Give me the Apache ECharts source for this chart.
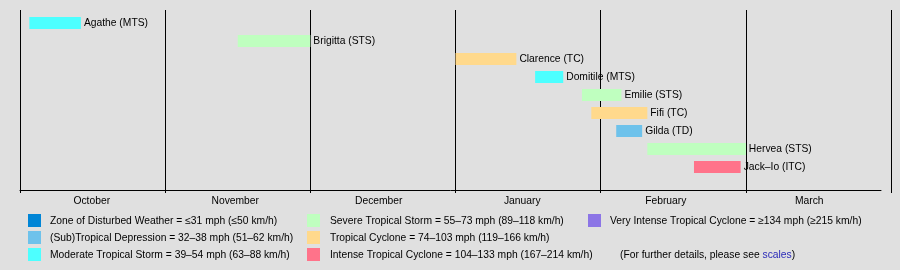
<!DOCTYPE html>
<html>
<head>
<meta charset="utf-8">
<script src="https://cdn.jsdelivr.net/npm/echarts@6/dist/echarts.min.js"></script>
<style>
html,body{margin:0;padding:0;background:#e0e0e0;}
#chart{width:900px;height:270px;}
</style>
</head>
<body>
<div id="chart"></div>
<script>
// ---- data ----
const months = ['October', 'November', 'December', 'January', 'February', 'March'];
const monthStarts = ['1976-10-01', '1976-11-01', '1976-12-01', '1977-01-01', '1977-02-01', '1977-03-01'];
const stormNames = ['Agathe', 'Brigitta', 'Clarence', 'Domitile', 'Emilie', 'Fifi', 'Gilda', 'Hervea', 'Jack–Io'];
const stormClass = ['MTS', 'STS', 'TC', 'MTS', 'STS', 'TC', 'TD', 'STS', 'ITC'];
const stormStart = ['1976-10-03', '1976-11-16', '1977-01-01', '1977-01-18', '1977-01-28', '1977-01-30', '1977-02-04', '1977-02-10', '1977-02-19'];
const stormEnd   = ['1976-10-14', '1976-12-01', '1977-01-14', '1977-01-24', '1977-02-05', '1977-02-10', '1977-02-09', '1977-03-01', '1977-02-28'];

const classCodes = ['ZD', 'TD', 'MTS', 'STS', 'TC', 'ITC', 'VITC'];
const classColors = ['#0085d6', '#6ec2eb', '#4dffff', '#bfffbf', '#ffd98c', '#ff738a', '#8c75e6'];
const legendLabels = [
  'Zone of Disturbed Weather = ≤31 mph (≤50 km/h)',
  '(Sub)Tropical Depression = 32–38 mph (51–62 km/h)',
  'Moderate Tropical Storm = 39–54 mph (63–88 km/h)',
  'Severe Tropical Storm = 55–73 mph (89–118 km/h)',
  'Tropical Cyclone = 74–103 mph (119–166 km/h)',
  'Intense Tropical Cyclone = 104–133 mph (167–214 km/h)',
  'Very Intense Tropical Cyclone = ≥134 mph (≥215 km/h)'
];
const noteText = '(For further details, please see ';
const noteLink = 'scales';
const noteEnd = ')';

// ---- helpers ----
const FONT = '"Liberation Sans", Arial, sans-serif';
const FS = 10.3;
function pos(ds) {
  const [y, m, d] = ds.split('-').map(Number);
  const first = monthStarts[0].split('-').map(Number);
  const idx = (y - first[0]) * 12 + (m - first[1]);
  const dim = new Date(y, m, 0).getDate();
  return idx + (d - 1) / dim;
}
const colorOf = c => classColors[classCodes.indexOf(c)];
const barData = stormNames.map((n, i) => ({
  value: [pos(stormStart[i]), pos(stormEnd[i]), i],
  label: n + ' (' + stormClass[i] + ')',
  color: colorOf(stormClass[i])
}));

// legend graphics
const graphics = [];
const colX = [28, 307, 588];
const textX = [50, 330, 610];
const rowY = [214, 231, 248];
legendLabels.forEach((lab, i) => {
  const col = Math.floor(i / 3), row = i % 3;
  graphics.push({type: 'rect', shape: {x: colX[col], y: rowY[row], width: 13, height: 13}, style: {fill: classColors[i]}});
  graphics.push({type: 'text', style: {x: textX[col], y: rowY[row] + 7.5, text: lab, font: FS + 'px ' + FONT, fill: '#000', verticalAlign: 'middle'}});
});
graphics.push({type: 'text', style: {x: 620, y: rowY[2] + 7.5, verticalAlign: 'middle', font: FS + 'px ' + FONT, fill: '#000',
  text: '{a|' + noteText + '}{b|' + noteLink + '}{a|' + noteEnd + '}',
  rich: {a: {fill: '#000', font: FS + 'px ' + FONT}, b: {fill: '#2a2ab8', font: FS + 'px ' + FONT}}}});

const chart = echarts.init(document.getElementById('chart'), null, {renderer: 'canvas'});
chart.setOption({
  backgroundColor: '#e0e0e0',
  animation: false,
  grid: [
    {left: 20, right: 9, top: 10, bottom: 80},
    {left: 20, right: 19, top: 10, bottom: 80},
    {left: 20, right: 9, top: 14, height: 162}
  ],
  xAxis: [
    {gridIndex: 0, type: 'value', min: 0, max: months.length, interval: 1,
     axisLine: {show: false}, axisLabel: {show: false},
     axisTick: {show: true, length: 3, lineStyle: {color: '#000', width: 1}},
     splitLine: {show: true, showMinLine: true, showMaxLine: true, lineStyle: {color: '#000', width: 1}}},
    {gridIndex: 1, type: 'category', data: months, boundaryGap: true,
     axisLine: {show: true, lineStyle: {color: '#000', width: 1}},
     axisTick: {show: false}, splitLine: {show: false},
     axisLabel: {color: '#000', fontSize: FS, fontFamily: FONT, margin: 6, interval: 0}},
    {gridIndex: 2, type: 'value', min: 0, max: months.length, show: false}
  ],
  yAxis: [
    {gridIndex: 0, type: 'value', show: false},
    {gridIndex: 1, type: 'value', show: false},
    {gridIndex: 2, type: 'category', data: stormNames, inverse: true, show: false}
  ],
  series: [{
    type: 'custom',
    xAxisIndex: 2, yAxisIndex: 2,
    data: barData,
    renderItem: function (params, api) {
      const d = barData[params.dataIndex];
      const s = api.coord([api.value(0), api.value(2)]);
      const e = api.coord([api.value(1), api.value(2)]);
      const h = 12;
      return {type: 'group', children: [
        {type: 'rect', shape: {x: s[0], y: s[1] - h / 2, width: e[0] - s[0], height: h}, style: {fill: d.color}},
        {type: 'text', style: {x: e[0] + 3, y: s[1] + 0.5, text: d.label, verticalAlign: 'middle', align: 'left',
          fill: '#000', font: FS + 'px ' + FONT}}
      ]};
    }
  }],
  graphic: graphics
});
</script>
</body>
</html>
